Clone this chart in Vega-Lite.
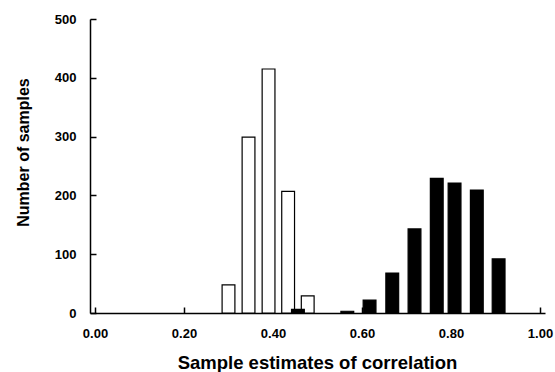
{
  "$schema": "https://vega.github.io/schema/vega-lite/v6.json",
  "autosize": "none",
  "width": 455,
  "height": 294,
  "padding": {"left": 90, "top": 19, "right": 10, "bottom": 59},
  "background": "white",
  "config": {
    "view": {"stroke": null},
    "font": "Liberation Sans",
    "axis": {"grid": false, "domainColor": "black", "domainWidth": 1.5, "tickColor": "black", "tickWidth": 1.5, "labelColor": "black", "titleColor": "black", "labelFont": "Liberation Sans", "titleFont": "Liberation Sans", "labelFontWeight": "bold", "titleFontWeight": "bold", "labelFontSize": 13, "titleFontSize": 16}
  },
  "data": {
    "values": [
      {"r": 0.300, "n": 48, "series": "A"},
      {"r": 0.345, "n": 299, "series": "A"},
      {"r": 0.390, "n": 415, "series": "A"},
      {"r": 0.434, "n": 207, "series": "A"},
      {"r": 0.478, "n": 29, "series": "A"},
      {"r": 0.456, "n": 6, "series": "B"},
      {"r": 0.567, "n": 3, "series": "B"},
      {"r": 0.617, "n": 22, "series": "B"},
      {"r": 0.668, "n": 68, "series": "B"},
      {"r": 0.718, "n": 143, "series": "B"},
      {"r": 0.768, "n": 229, "series": "B"},
      {"r": 0.808, "n": 221, "series": "B"},
      {"r": 0.858, "n": 209, "series": "B"},
      {"r": 0.907, "n": 92, "series": "B"}
    ]
  },
  "mark": {"type": "bar", "size": 12.8, "stroke": "black", "strokeWidth": 1.2, "orient": "vertical"},
  "encoding": {
    "x": {
      "field": "r", "type": "quantitative",
      "scale": {"domain": [0, 1], "nice": false, "zero": false},
      "axis": {"values": [0, 0.2, 0.4, 0.6, 0.8, 1.0], "format": ".2f", "tickSize": -6, "labelPadding": 20, "labelFlush": false, "title": "Sample estimates of correlation", "titleFontSize": 18.5, "titleBaseline": "alphabetic", "titleX": 227, "titleY": 55}
    },
    "y": {
      "field": "n", "type": "quantitative",
      "scale": {"domain": [0, 500], "nice": false},
      "axis": {"values": [0, 100, 200, 300, 400, 500], "format": "d", "tickSize": -6, "labelPadding": 20, "title": "Number of samples", "titleBaseline": "alphabetic", "titleX": -62, "titleY": 133}
    },
    "fill": {
      "field": "series", "type": "nominal",
      "scale": {"domain": ["A", "B"], "range": ["white", "black"]},
      "legend": null
    }
  }
}
